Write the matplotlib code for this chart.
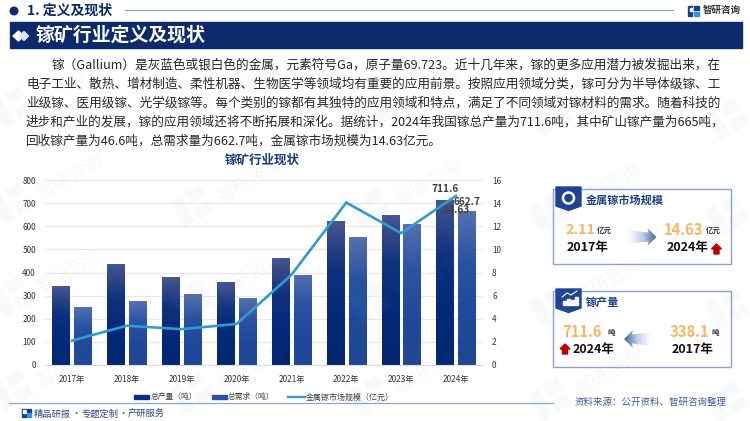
import numpy as np
import matplotlib
matplotlib.use('Agg')
import matplotlib.pyplot as plt
from matplotlib.colors import LinearSegmentedColormap
from matplotlib.patches import Polygon, Rectangle, Circle

plt.rcParams['font.family'] = ['Noto Sans CJK SC', 'DejaVu Sans']

# chart data
years = ['2017年', '2018年', '2019年', '2020年', '2021年', '2022年', '2023年', '2024年']
output_t = [338.1, 436, 377, 356, 459, 622, 647, 711.6]
demand_t = [249, 275, 306, 288, 388, 551, 608, 662.7]
market_size = [2.11, 3.4, 3.1, 3.55, 7.8, 14.05, 11.4, 14.63]

# text
para_lines = [
    '镓（Gallium）是灰蓝色或银白色的金属，元素符号Ga，原子量69.723。近十几年来，镓的更多应用潜力被发掘出来，在',
    '电子工业、散热、增材制造、柔性机器、生物医学等领域均有重要的应用前景。按照应用领域分类，镓可分为半导体级镓、工',
    '业级镓、医用级镓、光学级镓等。每个类别的镓都有其独特的应用领域和特点，满足了不同领域对镓材料的需求。随着科技的',
    '进步和产业的发展，镓的应用领域还将不断拓展和深化。据统计，2024年我国镓总产量为711.6吨，其中矿山镓产量为665吨，',
    '回收镓产量为46.6吨，总需求量为662.7吨，金属镓市场规模为14.63亿元。',
]

W, H = 750, 421
NAVY = '#0c2a6c'
ORANGE = '#f8b566'
EDGE = '#8ba1d0'
RED = '#c00000'

fig = plt.figure(figsize=(W / 100, H / 100), dpi=100)

# background layer in pixel coordinates
bg = fig.add_axes([0, 0, 1, 1])
bg.set_xlim(0, W)
bg.set_ylim(H, 0)
bg.axis('off')


def logo(ax, x, y, s, color, z=1):
    # small squared logo mark
    ax.add_patch(Rectangle((x, y), s * 0.42, s, color=color, zorder=z))
    ax.add_patch(Rectangle((x + s * 0.16, y + s * 0.2), s * 0.26, s * 0.3, color='white', zorder=z))
    ax.add_patch(Rectangle((x + s * 0.55, y), s * 0.45, s * 0.42, color=color, zorder=z))
    ax.add_patch(Rectangle((x + s * 0.55, y + s * 0.58), s * 0.45, s * 0.42, color='#2f9bd6', zorder=z))


# header
bg.add_patch(Circle((14, 11), 3.8, color=NAVY, zorder=3))
bg.text(27, 10.5, '1. 定义及现状', fontsize=10, fontweight='bold', color=NAVY, va='center', zorder=3)
bg.plot([125, 673], [10, 10], color='#8fa3cf', lw=0.9, zorder=3)
logo(bg, 688, 5.5, 10.5, '#123f91', z=3)
bg.text(703, 10, '智研咨询', fontsize=6.8, fontweight='bold', color='#333333', va='center', zorder=3)

# banner
bg.add_patch(Rectangle((9.5, 22.3), 732.5, 26, color=NAVY, zorder=3))
bg.add_patch(Polygon([(13, 36), (18.5, 31), (24, 36), (18.5, 41)], color='white', zorder=4))
bg.add_patch(Polygon([(20, 36), (24, 31.5), (28.5, 36), (24, 40.5)], color='#dfe5f0', zorder=4))
bg.text(35.5, 35.5, '镓矿行业定义及现状', fontsize=13.6, fontweight='bold', color='white', va='center', zorder=4)

# paragraph
para_x = [52, 26, 26, 26, 26]
para_y = [65.5, 84.5, 103.5, 122.5, 141.5]
para_fs = [9.14, 9.14, 9.14, 9.05, 9.08]
for line, lx, ly, fs in zip(para_lines, para_x, para_y, para_fs):
    bg.text(lx, ly, line, fontsize=fs, color='#262626', va='center', zorder=3)

bg.text(262, 160, '镓矿行业现状', fontsize=9, fontweight='bold', color='#15397f',
        ha='center', va='center', zorder=3)

# bar + line chart
left, right, top, bottom = 44.6, 483.4, 180, 365
ax = fig.add_axes([left / W, 1 - bottom / H, (right - left) / W, (bottom - top) / H])
ax.patch.set_alpha(0)
ax2 = ax.twinx()
x = np.arange(len(years))
bar_w = 0.315
offs = 0.2

cmap1 = LinearSegmentedColormap.from_list('c1', ['#47568f', '#0f327d', '#03297a', '#02276f'])
cmap2 = LinearSegmentedColormap.from_list('c2', ['#5670ae', '#2a52a3', '#20499b', '#1f4796'])
grad = np.linspace(0, 1, 128).reshape(-1, 1)

bars1 = ax.bar(x - offs, output_t, bar_w, color='#0b2e80', zorder=2)
bars2 = ax.bar(x + offs, demand_t, bar_w, color='#2a52a3', zorder=2)
for bars, cm in [(bars1, cmap1), (bars2, cmap2)]:
    for b in bars:
        ax.imshow(grad, cmap=cm, aspect='auto', zorder=2.5, interpolation='bilinear',
                  extent=[b.get_x(), b.get_x() + b.get_width(), 0, b.get_height()])

ax.set_xlim(-0.5, len(years) - 0.5)
ax.set_ylim(0, 800)
ax.set_yticks(range(0, 801, 100))
ax.set_xticks(x)
ax.set_xticklabels(years)
ax.grid(axis='y', color='#e8e8e8', lw=0.9, zorder=0)
ax.set_axisbelow(True)
ax.tick_params(length=0, labelsize=5.9, labelcolor='#333333')
ax.tick_params(axis='x', pad=7)
ax.tick_params(axis='y', pad=6.2)
for s in ['top', 'left', 'right']:
    ax.spines[s].set_visible(False)
ax.spines['bottom'].set_color('#dcdcdc')

ax2.plot(x, market_size, color='#2f9bd0', lw=1.9, zorder=5, solid_joinstyle='miter')
ax2.set_ylim(0, 16)
ax2.set_yticks(range(0, 17, 2))
ax2.tick_params(length=0, labelsize=5.9, labelcolor='#333333', pad=6.2)
for s in ax2.spines.values():
    s.set_visible(False)
ax2.set_zorder(ax.get_zorder() + 1)

# only the last year is labelled
lab = dict(fontsize=7.3, fontweight='bold', color='#404040', ha='center', va='center',
           textcoords='offset points', annotation_clip=False)
ax.annotate(f'{output_t[-1]}', (x[-1] - offs, output_t[-1]), xytext=(0, 8), **lab)
ax.annotate(f'{demand_t[-1]}', (x[-1] + offs, demand_t[-1]), xytext=(0, 7), **lab)
ax2.annotate(f'{market_size[-1]}', (x[-1], market_size[-1]), xytext=(0, -10), **lab)

# legend
bg.add_patch(Rectangle((134, 395), 15, 4, color='#0b2e80', zorder=3))
bg.text(151, 397, '总产量（吨）', fontsize=5.6, color='#404040', va='center', zorder=3)
bg.add_patch(Rectangle((211.5, 395), 15, 4, color='#2a52a3', zorder=3))
bg.text(228, 397, '总需求（吨）', fontsize=5.6, color='#404040', va='center', zorder=3)
bg.plot([288, 305], [397, 397], color='#2f9bd0', lw=1.7, zorder=3)
bg.text(306, 397, '金属镓市场规模（亿元）', fontsize=5.75, color='#404040', va='center', zorder=3)

# footer
bg.plot([9, 553], [403, 403], color='#8fa3cf', lw=0.9, zorder=3)
logo(bg, 22, 408.5, 8.5, '#123f91', z=3)
for fx, part in zip([34, 81.5, 128], ['精品研报', '专题定制', '产研服务']):
    bg.text(fx, 414, part, fontsize=6.7, color='#2d4a85', va='center', zorder=3)
for fx in [76, 122.5]:
    bg.text(fx, 414, '·', fontsize=6.7, color='#2d4a85', ha='center', va='center', zorder=3)
bg.text(574.5, 402.5, '资料来源：公开资料、智研咨询整理', fontsize=6.8, color='#3d5a94', va='center', zorder=3)


def gradient_arrow(x0, x1, yc, flip=False):
    # arrow fading out towards its tail
    pts = [(x0, yc - 7), (x1 - 8, yc - 4.5), (x1 - 9, yc - 9), (x1, yc), (x1 - 9, yc + 9),
           (x1 - 8, yc + 4.5), (x0, yc + 7)]
    if flip:
        pts = [(x0 + x1 - px, py) for px, py in pts]
    cols = LinearSegmentedColormap.from_list('a', ['#ffffff', '#c3cee4', '#41649f'])
    g = np.linspace(0, 1, 64).reshape(1, -1)
    if flip:
        g = g[:, ::-1]
    im = bg.imshow(g, cmap=cols, extent=[x0, x1, yc + 10, yc - 10], aspect='auto', zorder=3)
    clip = Polygon(pts, closed=True, transform=bg.transData, fc='none', ec='none')
    bg.add_patch(clip)
    im.set_clip_path(clip)


def up_arrow(xc, yc):
    pts = [(xc - 5, yc), (xc, yc - 5), (xc + 5, yc), (xc + 2.5, yc), (xc + 2.5, yc + 5),
           (xc - 2.5, yc + 5), (xc - 2.5, yc)]
    bg.add_patch(Polygon(pts, closed=True, color=RED, zorder=4))


def panel(y0, y1, title, tx):
    bg.add_patch(Rectangle((552.7, y0), 178.3, y1 - y0, fc='white', ec=EDGE, lw=1.0, zorder=2))
    bg.add_patch(Polygon([(556, y0 - 2), (581, y0 - 2), (581, y0 + 17), (568.5, y0 + 21.5), (556, y0 + 17)],
                         closed=True, color='#1d4494', zorder=3))
    bg.text(tx, y0 + 11, title, fontsize=8, fontweight='bold', color='#1d3f86', va='center', zorder=4)


# market size panel
panel(189, 264, '金属镓市场规模', 586)
bg.add_patch(Circle((568.5, 198), 5.5, fc='none', ec='white', lw=1.8, zorder=4))
bg.text(565, 230, '2.11', fontsize=10.3, fontweight='bold', color=ORANGE, va='center', zorder=4)
bg.text(597, 230.5, '亿元', fontsize=5.4, fontweight='bold', color='#333333', va='center', zorder=4)
bg.text(567, 248, '2017年', fontsize=9, fontweight='bold', color='#111111', va='center', zorder=4)
gradient_arrow(628, 656.5, 237)
bg.text(663.5, 230, '14.63', fontsize=10.6, fontweight='bold', color=ORANGE, va='center', zorder=4)
bg.text(706, 230.5, '亿元', fontsize=5.4, fontweight='bold', color='#333333', va='center', zorder=4)
bg.text(666.5, 248, '2024年', fontsize=9, fontweight='bold', color='#111111', va='center', zorder=4)
up_arrow(716.5, 249)

# output panel
panel(291, 366.5, '镓产量', 585.5)
for bx, bh in zip([563, 567, 571, 575], [4, 6, 5, 8]):
    bg.add_patch(Rectangle((bx, 305 - bh), 2.5, bh, color='white', zorder=4))
bg.plot([562, 567, 571, 577], [297, 293, 295, 291], color='white', lw=0.8, zorder=4)
bg.text(562.5, 332, '711.6', fontsize=10.6, fontweight='bold', color=ORANGE, va='center', zorder=4)
bg.text(608, 332.5, '吨', fontsize=5.4, fontweight='bold', color='#333333', va='center', zorder=4)
up_arrow(565, 349)
bg.text(573, 350, '2024年', fontsize=9, fontweight='bold', color='#111111', va='center', zorder=4)
gradient_arrow(624, 651, 339, flip=True)
bg.text(669.5, 332, '338.1', fontsize=10.6, fontweight='bold', color=ORANGE, va='center', zorder=4)
bg.text(712, 332.5, '吨', fontsize=5.4, fontweight='bold', color='#333333', va='center', zorder=4)
bg.text(671.5, 350, '2017年', fontsize=9, fontweight='bold', color='#111111', va='center', zorder=4)

# faint watermark on top of everything below the banner
wm = fig.add_axes([0, 0, 1, 1 - 49 / H], zorder=10)
wm.set_xlim(0, W)
wm.set_ylim(H, 49)
wm.axis('off')
wm.patch.set_alpha(0)
WM_C = '#6f90b4'
ang = np.radians(-30)
rot = np.array([[np.cos(ang), -np.sin(ang)], [np.sin(ang), np.cos(ang)]])
for col, wx in enumerate([12, 192, 370, 550, 727]):
    for wy in [107, 203, 297, 390]:
        wy = wy + col * 3
        # tilted logo blocks
        for rx, ry, rw, rh in [(-17, -15, 12, 30), (0, -15, 17, 12), (0, 3, 17, 12)]:
            corners = np.array([(rx, ry), (rx + rw, ry), (rx + rw, ry + rh), (rx, ry + rh)]) @ rot.T
            wm.add_patch(Polygon(corners + [wx, wy], closed=True, fc=WM_C, ec='none', alpha=0.05))
        # the last column has no room for the wordmark
        if wx + 58 < 710 and wy - 25 > 62:
            wm.text(wx + 58, wy - 25, '智研咨询', fontsize=13, color=WM_C, alpha=0.07, rotation=30,
                    ha='center', va='center', clip_on=True)

fig.savefig('out.png', dpi=100)
